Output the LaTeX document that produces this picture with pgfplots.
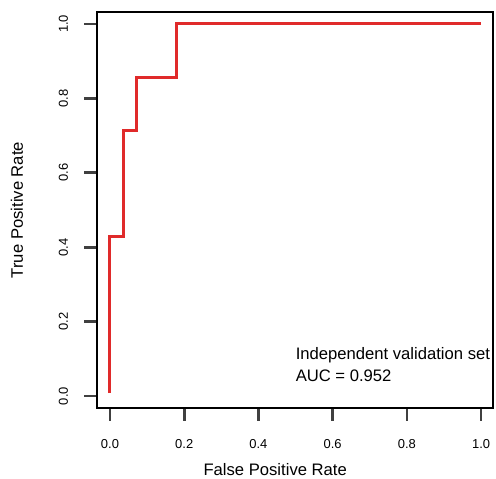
\documentclass[border=0pt]{standalone}
\usepackage{fontspec}
\setmainfont{Liberation Sans}
\usepackage{pgfplots}
\pgfplotsset{compat=1.18}
\definecolor{rocred}{HTML}{E02A2A}
\definecolor{tickgray}{RGB}{64,64,64}

\begin{document}
\begin{tikzpicture}
  \begin{axis}[
    scale only axis,
    width=396bp, height=396bp,
    xmin=-0.035, xmax=1.032,
    ymin=-0.032, ymax=1.032,
    axis line style={line width=1.4bp},
    xtick={0,0.2,...,1.0}, ytick={0,0.2,...,1.0},
    tick align=outside,
    major tick length=12.5bp,
    tick style={line width=2.6bp, color=tickgray},
    xtick pos=bottom, ytick pos=left,
    /pgf/number format/assume math mode=true,
    /pgf/number format/.cd, fixed, fixed zerofill, precision=1, /pgfplots/.cd,
    ticklabel style={font=\fontsize{13}{15}\selectfont},
    xticklabel style={yshift=-15bp},
    yticklabel style={rotate=90, anchor=south, yshift=13bp},
    xlabel={False Positive Rate},
    ylabel={True Positive Rate},
    label style={font=\fontsize{16.7}{19}\selectfont},
    xlabel style={at={(axis description cs:0.45,0)}, anchor=center, yshift=-62bp},
    ylabel style={at={(axis description cs:0,0.5)}, anchor=center, yshift=80bp},
    clip=false,
  ]
    \addplot[rocred, line width=3bp, line join=miter] coordinates {
      (0,0.008) (0,0.4286) (0.0357,0.4286) (0.0357,0.7143)
      (0.0714,0.7143) (0.0714,0.8571) (0.1786,0.8571)
      (0.1786,1) (1,1)
    };
    \node[anchor=base west, inner sep=0pt, font=\fontsize{16.7}{19}\selectfont]
      at (axis cs:0.5,0.099) {Independent validation set};
    \node[anchor=base west, inner sep=0pt, font=\fontsize{16.7}{19}\selectfont]
      at (axis cs:0.5,0.040) {AUC = 0.952};
  \end{axis}
  \pgfresetboundingbox
  \path[use as bounding box] ([shift={(-97bp,-71bp)}]current axis.south west)
    rectangle ([shift={(3bp,12bp)}]current axis.north east);
\end{tikzpicture}
\end{document}
